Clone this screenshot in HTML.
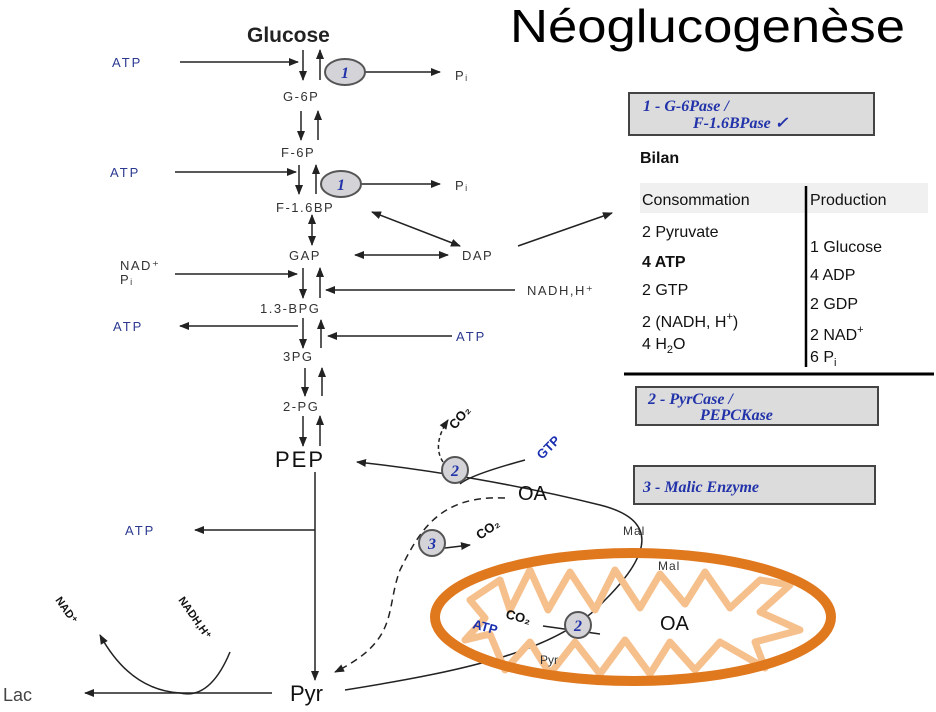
<!DOCTYPE html>
<html><head><meta charset="utf-8"><style>
html,body{margin:0;padding:0;background:#fff;}
svg{display:block;font-family:"Liberation Sans",sans-serif;}
.b{fill:#2b3990;font-size:13px;letter-spacing:2px;}
.m{fill:#333;font-size:13px;letter-spacing:1.5px;}
.e{font-family:"Liberation Serif",serif;font-style:italic;font-weight:bold;fill:#2233aa;}
</style></head><body>
<svg width="936" height="712" viewBox="0 0 936 712">
<defs>
<marker id="a" markerWidth="10" markerHeight="8" refX="9" refY="4" orient="auto" markerUnits="userSpaceOnUse"><path d="M0,0 L10,4 L0,8 Z" fill="#222"/></marker>
<marker id="as" markerWidth="10" markerHeight="8" refX="1" refY="4" orient="auto" markerUnits="userSpaceOnUse"><path d="M10,0 L0,4 L10,8 Z" fill="#222"/></marker>
</defs>
<text x="510" y="42" font-size="46" textLength="395" lengthAdjust="spacingAndGlyphs" fill="#000">Néoglucogenèse</text>
<g stroke="#222" stroke-width="1.5" fill="none">
<line x1="303" y1="50" x2="303" y2="80" marker-end="url(#a)"/><line x1="320" y1="80" x2="320" y2="50" marker-end="url(#a)"/>
<line x1="301" y1="111" x2="301" y2="140" marker-end="url(#a)"/><line x1="318" y1="140" x2="318" y2="111" marker-end="url(#a)"/>
<line x1="299" y1="165" x2="299" y2="194" marker-end="url(#a)"/><line x1="316" y1="194" x2="316" y2="165" marker-end="url(#a)"/>
<line x1="312" y1="215" x2="312" y2="245" marker-end="url(#a)" marker-start="url(#as)"/>
<line x1="303" y1="268" x2="303" y2="298" marker-end="url(#a)"/><line x1="320" y1="298" x2="320" y2="268" marker-end="url(#a)"/>
<line x1="303" y1="318" x2="303" y2="348" marker-end="url(#a)"/><line x1="321" y1="348" x2="321" y2="320" marker-end="url(#a)"/>
<line x1="305" y1="368" x2="305" y2="396" marker-end="url(#a)"/><line x1="322" y1="396" x2="322" y2="368" marker-end="url(#a)"/>
<line x1="303" y1="416" x2="303" y2="446" marker-end="url(#a)"/><line x1="320" y1="446" x2="320" y2="416" marker-end="url(#a)"/>
<line x1="315" y1="472" x2="315" y2="680" marker-end="url(#a)"/>
<line x1="180" y1="62" x2="298" y2="62" marker-end="url(#a)"/>
<line x1="365" y1="72" x2="440" y2="72" marker-end="url(#a)"/>
<line x1="175" y1="172" x2="296" y2="172" marker-end="url(#a)"/>
<line x1="360" y1="184" x2="440" y2="184" marker-end="url(#a)"/>
<line x1="372" y1="212" x2="460" y2="246" marker-end="url(#a)" marker-start="url(#as)"/>
<line x1="355" y1="255" x2="448" y2="255" marker-end="url(#a)" marker-start="url(#as)"/>
<line x1="518" y1="246" x2="612" y2="213" marker-end="url(#a)"/>
<line x1="175" y1="274" x2="297" y2="274" marker-end="url(#a)"/>
<line x1="515" y1="290" x2="326" y2="290" marker-end="url(#a)"/>
<line x1="298" y1="326" x2="180" y2="326" marker-end="url(#a)"/>
<line x1="452" y1="336" x2="328" y2="336" marker-end="url(#a)"/>
<line x1="315" y1="530" x2="195" y2="530" marker-end="url(#a)"/>
<line x1="272" y1="693" x2="85" y2="693" marker-end="url(#a)"/>
<path d="M230,652 Q210,700 180,693 Q130,690 100,635" marker-end="url(#a)"/>
<path d="M345,690 C470,670 560,650 605,600 C650,555 660,520 600,505 C520,485 430,470 357,462" marker-end="url(#a)"/>
<path d="M505,498 C440,495 420,530 400,570 C385,610 400,640 335,672" stroke-dasharray="7,5" marker-end="url(#a)"/>
<path d="M443,462 C435,450 438,435 448,420" stroke-dasharray="4,3" marker-end="url(#a)"/>
<path d="M460,484 Q470,475 525,460"/>
<path d="M445,548 L470,545" marker-end="url(#a)"/>
<path d="M543,626 L600,634"/>
</g>
<g stroke="#555" stroke-width="2" fill="#d4d4d8">
<ellipse cx="345" cy="72" rx="20" ry="13"/>
<ellipse cx="341" cy="184" rx="20" ry="13"/>
<circle cx="455" cy="470" r="13"/>
<circle cx="432" cy="543" r="13"/>
<circle cx="578" cy="625" r="13"/>
</g>
<g class="e" font-size="16" text-anchor="middle">
<text x="345" y="78">1</text><text x="341" y="190">1</text>
<text x="455" y="476">2</text><text x="432" y="549">3</text><text x="578" y="631">2</text>
</g>
<polygon fill="none" stroke="#f6c08d" stroke-width="7" stroke-linejoin="round" points="470,600 500,580 510,610 530,570 548,610 570,572 595,610 615,570 640,608 660,574 685,604 705,572 730,608 760,580 790,585 760,612 800,630 755,642 765,668 720,642 695,670 670,642 650,674 625,640 600,674 575,642 550,674 530,642 505,670 490,634 465,640 485,618"/>
<ellipse cx="633" cy="617" rx="198" ry="64" fill="none" stroke="#e0781e" stroke-width="10"/>
<text x="247" y="42" font-size="21" font-weight="bold" fill="#222">Glucose</text>
<text class="b" x="112" y="67">ATP</text>
<text class="b" x="110" y="177">ATP</text>
<text class="b" x="113" y="331">ATP</text>
<text class="b" x="456" y="341">ATP</text>
<text class="b" x="125" y="535">ATP</text>
<text class="m" x="455" y="80">Pᵢ</text>
<text class="m" x="455" y="190">Pᵢ</text>
<text class="m" x="283" y="101">G-6P</text>
<text class="m" x="281" y="157">F-6P</text>
<text class="m" x="276" y="212">F-1.6BP</text>
<text class="m" x="289" y="260">GAP</text>
<text class="m" x="462" y="260">DAP</text>
<text class="m" x="120" y="270">NAD⁺</text>
<text class="m" x="120" y="284">Pᵢ</text>
<text class="m" x="527" y="295">NADH,H⁺</text>
<text class="m" x="260" y="313">1.3-BPG</text>
<text class="m" x="283" y="361">3PG</text>
<text class="m" x="283" y="411">2-PG</text>
<text x="275" y="467" font-size="22" letter-spacing="2" fill="#111">PEP</text>
<text x="290" y="701" font-size="22" fill="#111">Pyr</text>
<text x="3" y="701" font-size="18" fill="#444">Lac</text>
<text x="518" y="500" font-size="20" fill="#111">OA</text>
<text x="660" y="630" font-size="20" fill="#111">OA</text>
<text x="623" y="535" font-size="12" fill="#333" letter-spacing="1">Mal</text>
<text x="658" y="570" font-size="12" fill="#333" letter-spacing="1">Mal</text>
<text x="540" y="664" font-size="12" fill="#333">Pyr</text>
<text transform="translate(455,430) rotate(-50)" font-size="13" font-weight="bold" fill="#111">CO₂</text>
<text transform="translate(542,460) rotate(-45)" font-size="13" font-weight="bold" fill="#1a2fb0">GTP</text>
<text transform="translate(480,540) rotate(-35)" font-size="13" font-weight="bold" fill="#111">CO₂</text>
<text transform="translate(505,618) rotate(15)" font-size="13" font-weight="bold" fill="#111">CO₂</text>
<text transform="translate(472,628) rotate(15)" font-size="13" font-weight="bold" fill="#1a2fb0">ATP</text>
<text transform="translate(55,600) rotate(55)" font-size="11" font-weight="bold" fill="#111">NAD⁺</text>
<text transform="translate(178,600) rotate(55)" font-size="11" font-weight="bold" fill="#111">NADH,H⁺</text>
<rect x="629" y="93" width="245" height="42" fill="#dcdcdc" stroke="#444" stroke-width="2"/>
<text class="e" x="643" y="111" font-size="16">1 -    G-6Pase  /</text>
<text class="e" x="693" y="128" font-size="16">F-1.6BPase ✓</text>
<text x="640" y="163" font-size="16" font-weight="bold" fill="#111">Bilan</text>
<rect x="640" y="183" width="288" height="30" fill="#f0f0f0"/>
<line x1="806" y1="186" x2="806" y2="367" stroke="#000" stroke-width="2.5"/>
<g font-size="16" fill="#111">
<text x="642" y="205">Consommation</text><text x="810" y="205">Production</text>
<text x="642" y="237">2 Pyruvate</text>
<text x="642" y="267" font-weight="bold">4 ATP</text>
<text x="642" y="295">2 GTP</text>
<text x="642" y="327">2 (NADH, H<tspan font-size="11" dy="-7">+</tspan><tspan dy="7">)</tspan></text>
<text x="642" y="349">4 H<tspan font-size="11" dy="4">2</tspan><tspan dy="-4">O</tspan></text>
<text x="810" y="252">1 Glucose</text>
<text x="810" y="280">4 ADP</text>
<text x="810" y="309">2 GDP</text>
<text x="810" y="340">2 NAD<tspan font-size="11" dy="-7">+</tspan></text>
<text x="810" y="362">6 P<tspan font-size="11" dy="4">i</tspan></text>
</g>
<line x1="624" y1="374" x2="934" y2="374" stroke="#000" stroke-width="3"/>
<rect x="636" y="387" width="242" height="38" fill="#dcdcdc" stroke="#444" stroke-width="2"/>
<text class="e" x="648" y="404" font-size="16">2 -    PyrCase  /</text>
<text class="e" x="700" y="420" font-size="16">PEPCKase</text>
<rect x="634" y="466" width="241" height="38" fill="#dcdcdc" stroke="#444" stroke-width="2"/>
<text class="e" x="643" y="492" font-size="16">3 -    Malic Enzyme</text>
</svg>
</body></html>
